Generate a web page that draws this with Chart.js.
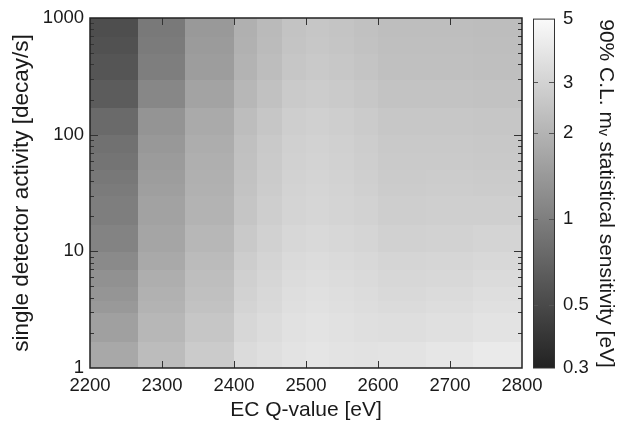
<!DOCTYPE html>
<html>
<head>
<meta charset="utf-8">
<script src="https://cdn.jsdelivr.net/npm/chart.js@4.4.0/dist/chart.umd.min.js"></script>
<style>
  html, body { margin: 0; padding: 0; background: #fff; }
  #wrap { position: relative; width: 626px; height: 434px; }
  #wrap canvas { position: absolute; left: 0; top: 0; }
</style>
</head>
<body>
<div id="wrap">
  <canvas id="map" width="626" height="434"></canvas>
  <canvas id="bar" width="626" height="434"></canvas>
</div>
<script>
// cell edges along EC Q-value [eV]
const qEdges = [2200, 2266.7, 2333.3, 2400, 2433.3, 2466.7, 2500, 2533.3, 2566.7, 2600, 2666.7, 2733.3, 2800];
// cell edges along single detector activity [decay/s], bottom to top
const activityEdges = [1, 1.7, 3, 3.8, 5, 7, 10, 17, 30, 38, 50, 70, 100, 170, 300, 500, 700, 1000];

const qTicks = [2200, 2300, 2400, 2500, 2600, 2700, 2800];
const activityTicks = [1, 10, 100, 1000];
const sensTicks = [0.3, 0.5, 1, 2, 3, 5];

// 90% C.L. sensitivity [eV], one list per Q cell, values from activity 1 up to 1000
const sens2233 = [1.72, 1.55, 1.41, 1.34, 1.27, 1.16, 1.06, 0.99, 0.96, 0.92, 0.87, 0.84, 0.77, 0.64, 0.58, 0.55, 0.53];
const sens2300 = [2.23, 2.09, 1.98, 1.93, 1.86, 1.74, 1.65, 1.59, 1.53, 1.49, 1.45, 1.39, 1.32, 1.12, 0.99, 0.96, 0.93];
const sens2367 = [2.71, 2.54, 2.41, 2.35, 2.29, 2.20, 2.09, 1.98, 1.93, 1.91, 1.88, 1.83, 1.76, 1.61, 1.49, 1.45, 1.41];
const sens2417 = [3.34, 3.17, 3.05, 2.97, 2.89, 2.78, 2.64, 2.51, 2.44, 2.41, 2.38, 2.35, 2.26, 2.09, 1.98, 1.93, 1.91];
const sens2450 = [3.52, 3.38, 3.25, 3.21, 3.13, 3.05, 2.93, 2.82, 2.74, 2.71, 2.67, 2.64, 2.54, 2.38, 2.26, 2.20, 2.17];
const sens2483 = [3.70, 3.61, 3.52, 3.47, 3.38, 3.29, 3.17, 3.05, 3.01, 2.97, 2.93, 2.89, 2.82, 2.67, 2.54, 2.47, 2.44];
const sens2517 = [3.80, 3.70, 3.61, 3.56, 3.47, 3.38, 3.25, 3.13, 3.09, 3.05, 3.01, 2.97, 2.89, 2.74, 2.64, 2.57, 2.54];
const sens2550 = [3.70, 3.61, 3.52, 3.47, 3.38, 3.29, 3.17, 3.05, 3.01, 2.97, 2.93, 2.89, 2.82, 2.67, 2.57, 2.51, 2.47];
const sens2583 = [3.65, 3.52, 3.42, 3.38, 3.29, 3.21, 3.09, 2.97, 2.89, 2.85, 2.82, 2.78, 2.71, 2.57, 2.47, 2.41, 2.38];
const sens2633 = [3.70, 3.47, 3.34, 3.25, 3.17, 3.09, 2.93, 2.82, 2.74, 2.71, 2.67, 2.64, 2.57, 2.44, 2.35, 2.32, 2.29];
const sens2700 = [3.85, 3.56, 3.42, 3.34, 3.21, 3.13, 2.97, 2.85, 2.78, 2.74, 2.67, 2.64, 2.57, 2.44, 2.35, 2.32, 2.29];
const sens2767 = [4.06, 3.70, 3.56, 3.47, 3.34, 3.21, 3.05, 2.85, 2.74, 2.71, 2.64, 2.61, 2.54, 2.41, 2.32, 2.29, 2.26];

const sensitivity = [sens2233, sens2300, sens2367, sens2417, sens2450, sens2483,
                     sens2517, sens2550, sens2583, sens2633, sens2700, sens2767];

const SENS_MIN = 0.3, SENS_MAX = 5;
const TEXT = '#1a1a1a';

Chart.defaults.font.family = "'Liberation Sans', Arial, sans-serif";
Chart.defaults.color = TEXT;

// gray level linear in log(sensitivity)
function grayFor(v) {
  let t = Math.log(v / SENS_MIN) / Math.log(SENS_MAX / SENS_MIN);
  t = Math.min(1, Math.max(0, t));
  const g = Math.round(34 + 216 * t);
  return `rgb(${g},${g},${g})`;
}

function line(ctx, x0, y0, x1, y1) {
  ctx.beginPath();
  ctx.moveTo(x0, y0);
  ctx.lineTo(x1, y1);
  ctx.stroke();
}

const cellPlugin = {
  id: 'cells',
  beforeDatasetsDraw(chart) {
    const { ctx, scales: { x, y } } = chart;
    ctx.save();
    sensitivity.forEach((col, i) => {
      const x0 = Math.floor(x.getPixelForValue(qEdges[i]));
      const x1 = Math.ceil(x.getPixelForValue(qEdges[i + 1]));
      col.forEach((v, j) => {
        const y0 = Math.floor(y.getPixelForValue(activityEdges[j + 1]));
        const y1 = Math.ceil(y.getPixelForValue(activityEdges[j]));
        ctx.fillStyle = grayFor(v);
        ctx.fillRect(x0, y0, x1 - x0, y1 - y0);
      });
    });
    ctx.restore();
  },
  afterDraw(chart) {
    const { ctx, chartArea: { left, right, top, bottom }, scales: { x, y } } = chart;
    ctx.save();
    ctx.strokeStyle = '#333';
    ctx.lineWidth = 1;
    // x ticks, inward on bottom and top
    qTicks.slice(1, -1).forEach(q => {
      const px = Math.round(x.getPixelForValue(q)) + 0.5;
      line(ctx, px, bottom, px, bottom - 7);
      line(ctx, px, top, px, top + 7);
    });
    // y ticks, major and minor, inward on left and right
    [1, 10, 100].forEach(d => {
      for (let m = 1; m <= 9; m++) {
        const v = d * m;
        if (v <= 1 || v >= 1000) continue;
        const py = Math.round(y.getPixelForValue(v)) + 0.5;
        const len = m === 1 ? 8 : 4;
        line(ctx, left, py, left + len, py);
        line(ctx, right, py, right - len, py);
      }
    });
    ctx.strokeStyle = '#222';
    ctx.lineWidth = 1.5;
    ctx.strokeRect(left, top, right - left, bottom - top);
    ctx.restore();
  }
};

new Chart(document.getElementById('map'), {
  type: 'scatter',
  data: { datasets: [{ data: [] }] },
  plugins: [cellPlugin],
  options: {
    responsive: false,
    animation: false,
    layout: { padding: { left: 0, right: 104, top: 18, bottom: 0 } },
    plugins: { legend: { display: false }, tooltip: { enabled: false } },
    scales: {
      x: {
        type: 'linear',
        min: 2200,
        max: 2800,
        afterBuildTicks: s => { s.ticks = qTicks.map(v => ({ value: v })); },
        afterFit: s => { s.height = 66; },
        grid: { display: false, drawTicks: false },
        border: { display: false },
        ticks: { autoSkip: false, maxRotation: 0, padding: 7, font: { size: 18.5 }, color: TEXT, callback: v => String(v) },
        title: { display: true, text: 'EC Q-value [eV]', font: { size: 21 }, color: TEXT, padding: { top: 0, bottom: 11 } }
      },
      y: {
        type: 'logarithmic',
        min: 1,
        max: 1000,
        afterBuildTicks: s => { s.ticks = activityTicks.map(v => ({ value: v })); },
        afterFit: s => { s.width = 90; },
        grid: { display: false, drawTicks: false },
        border: { display: false },
        ticks: { autoSkip: false, padding: 6, font: { size: 18.5 }, color: TEXT, callback: v => String(v) },
        title: { display: true, text: 'single detector activity [decay/s]', font: { size: 22.5 }, color: TEXT, padding: { top: 8, bottom: 0 } }
      }
    }
  }
});

const barPlugin = {
  id: 'colorbar',
  beforeDatasetsDraw(chart) {
    const { ctx, chartArea: { left, right, top, bottom }, scales: { y } } = chart;
    const yTop = y.getPixelForValue(SENS_MAX);
    const yBot = y.getPixelForValue(SENS_MIN);
    const grad = ctx.createLinearGradient(0, yBot, 0, yTop);
    grad.addColorStop(0, grayFor(SENS_MIN));
    grad.addColorStop(1, grayFor(SENS_MAX));
    ctx.save();
    ctx.fillStyle = grad;
    ctx.fillRect(left, top, right - left, bottom - top);
    ctx.strokeStyle = '#555';
    ctx.lineWidth = 1;
    sensTicks.slice(1, -1).forEach(v => {
      const py = Math.round(y.getPixelForValue(v)) + 0.5;
      line(ctx, left, py, left + 5, py);
      line(ctx, right - 6, py, right, py);
    });
    ctx.strokeStyle = '#333';
    ctx.strokeRect(left + 0.5, top, right - left - 1, bottom - top);
    ctx.restore();
  }
};

new Chart(document.getElementById('bar'), {
  type: 'scatter',
  data: { datasets: [{ data: [] }] },
  plugins: [barPlugin],
  options: {
    responsive: false,
    animation: false,
    layout: { padding: { left: 533, right: 0, top: 18, bottom: 66 } },
    plugins: { legend: { display: false }, tooltip: { enabled: false } },
    scales: {
      x: { display: false, min: 0, max: 1 },
      y: {
        type: 'logarithmic',
        position: 'right',
        min: SENS_MIN,
        max: SENS_MAX,
        afterBuildTicks: s => { s.ticks = sensTicks.map(v => ({ value: v })); },
        afterFit: s => { s.width = 71; },
        grid: { display: false, drawTicks: false },
        border: { display: false },
        ticks: { autoSkip: false, padding: 8, font: { size: 18.5 }, color: TEXT, callback: v => String(v) },
        title: { display: true, text: '90% C.L. m\u1D65 statistical sensitivity [eV]', font: { size: 21 }, color: TEXT, padding: { top: 8, bottom: 0 } }
      }
    }
  }
});
</script>
</body>
</html>
